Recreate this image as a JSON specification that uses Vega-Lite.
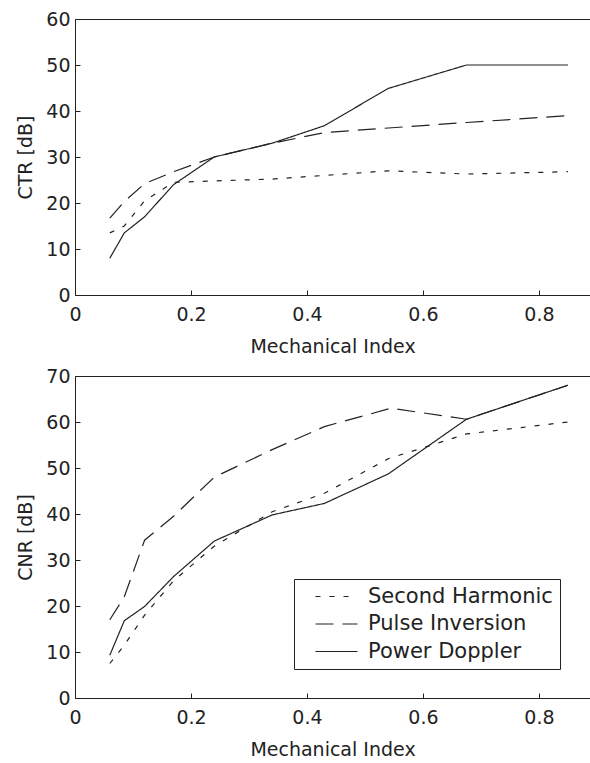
{
  "$schema": "https://vega.github.io/schema/vega-lite/v6.json",
  "padding": {"left": 16, "top": 9, "right": 0, "bottom": 0},
  "background": "white",
  "datasets": {
    "ctr": [
      {"series": "Second Harmonic", "mi": 0.06, "db": 13.5},
      {"series": "Second Harmonic", "mi": 0.085, "db": 15},
      {"series": "Second Harmonic", "mi": 0.12, "db": 20.5},
      {"series": "Second Harmonic", "mi": 0.17, "db": 24.5},
      {"series": "Second Harmonic", "mi": 0.24, "db": 24.8},
      {"series": "Second Harmonic", "mi": 0.34, "db": 25.2},
      {"series": "Second Harmonic", "mi": 0.43, "db": 26},
      {"series": "Second Harmonic", "mi": 0.54, "db": 27},
      {"series": "Second Harmonic", "mi": 0.675, "db": 26.3},
      {"series": "Second Harmonic", "mi": 0.85, "db": 26.8},
      {"series": "Pulse Inversion", "mi": 0.06, "db": 16.7},
      {"series": "Pulse Inversion", "mi": 0.085, "db": 20.3},
      {"series": "Pulse Inversion", "mi": 0.12, "db": 24.2},
      {"series": "Pulse Inversion", "mi": 0.17, "db": 26.8},
      {"series": "Pulse Inversion", "mi": 0.24, "db": 30},
      {"series": "Pulse Inversion", "mi": 0.34, "db": 33},
      {"series": "Pulse Inversion", "mi": 0.43, "db": 35.3},
      {"series": "Pulse Inversion", "mi": 0.54, "db": 36.3},
      {"series": "Pulse Inversion", "mi": 0.675, "db": 37.5},
      {"series": "Pulse Inversion", "mi": 0.85, "db": 39},
      {"series": "Power Doppler", "mi": 0.06, "db": 8},
      {"series": "Power Doppler", "mi": 0.085, "db": 13.5},
      {"series": "Power Doppler", "mi": 0.12, "db": 17},
      {"series": "Power Doppler", "mi": 0.17, "db": 24},
      {"series": "Power Doppler", "mi": 0.24, "db": 30},
      {"series": "Power Doppler", "mi": 0.34, "db": 33},
      {"series": "Power Doppler", "mi": 0.43, "db": 36.8},
      {"series": "Power Doppler", "mi": 0.54, "db": 44.9},
      {"series": "Power Doppler", "mi": 0.675, "db": 50},
      {"series": "Power Doppler", "mi": 0.85, "db": 50}
    ],
    "cnr": [
      {"series": "Second Harmonic", "mi": 0.06, "db": 7.5},
      {"series": "Second Harmonic", "mi": 0.085, "db": 11.5},
      {"series": "Second Harmonic", "mi": 0.12, "db": 18},
      {"series": "Second Harmonic", "mi": 0.17, "db": 25.5},
      {"series": "Second Harmonic", "mi": 0.24, "db": 33},
      {"series": "Second Harmonic", "mi": 0.34, "db": 40.5},
      {"series": "Second Harmonic", "mi": 0.43, "db": 44.5},
      {"series": "Second Harmonic", "mi": 0.54, "db": 52},
      {"series": "Second Harmonic", "mi": 0.675, "db": 57.4},
      {"series": "Second Harmonic", "mi": 0.85, "db": 60},
      {"series": "Pulse Inversion", "mi": 0.06, "db": 17},
      {"series": "Pulse Inversion", "mi": 0.085, "db": 22},
      {"series": "Pulse Inversion", "mi": 0.12, "db": 34.3},
      {"series": "Pulse Inversion", "mi": 0.17, "db": 39.5},
      {"series": "Pulse Inversion", "mi": 0.24, "db": 48},
      {"series": "Pulse Inversion", "mi": 0.34, "db": 54},
      {"series": "Pulse Inversion", "mi": 0.43, "db": 59},
      {"series": "Pulse Inversion", "mi": 0.545, "db": 63},
      {"series": "Pulse Inversion", "mi": 0.675, "db": 60.6},
      {"series": "Pulse Inversion", "mi": 0.85, "db": 68},
      {"series": "Power Doppler", "mi": 0.06, "db": 9.3},
      {"series": "Power Doppler", "mi": 0.085, "db": 16.8},
      {"series": "Power Doppler", "mi": 0.12, "db": 19.9},
      {"series": "Power Doppler", "mi": 0.17, "db": 26.4},
      {"series": "Power Doppler", "mi": 0.24, "db": 34.1},
      {"series": "Power Doppler", "mi": 0.34, "db": 39.8},
      {"series": "Power Doppler", "mi": 0.43, "db": 42.3},
      {"series": "Power Doppler", "mi": 0.54, "db": 48.7},
      {"series": "Power Doppler", "mi": 0.675, "db": 60.6},
      {"series": "Power Doppler", "mi": 0.85, "db": 68}
    ]
  },
  "config": {
    "font": "DejaVu Sans",
    "view": {"stroke": "#222", "strokeWidth": 1},
    "axis": {
      "grid": false,
      "domainColor": "#222",
      "tickColor": "#222",
      "labelColor": "#222",
      "titleColor": "#222",
      "labelFontSize": 19,
      "titleFontSize": 19,
      "titleFontWeight": "normal",
      "labelFont": "DejaVu Sans",
      "titleFont": "DejaVu Sans"
    },
    "legend": {
      "labelFont": "DejaVu Sans",
      "labelFontSize": 21,
      "labelColor": "#222"
    }
  },
  "spacing": 9,
  "resolve": {"legend": {"strokeDash": "independent"}},
  "vconcat": [
    {
      "width": 515,
      "height": 276,
      "data": {"name": "ctr"},
      "mark": {"type": "line", "color": "#222", "strokeWidth": 1.2},
      "encoding": {
        "x": {
          "field": "mi", "type": "quantitative",
          "scale": {"domain": [0, 0.888], "nice": false},
          "axis": {"values": [0, 0.2, 0.4, 0.6, 0.8], "format": ".1~f", "title": "Mechanical Index", "labelPadding": 15, "titlePadding": 13, "tickSize": -5, "labelFlush": false}
        },
        "y": {
          "field": "db", "type": "quantitative",
          "scale": {"domain": [0, 60], "nice": false},
          "axis": {"values": [0, 10, 20, 30, 40, 50, 60], "title": "CTR [dB]", "labelPadding": 10, "titlePadding": 10, "tickSize": -5, "labelFlush": false}
        },
        "strokeDash": {
          "field": "series", "type": "nominal",
          "scale": {"domain": ["Second Harmonic", "Pulse Inversion", "Power Doppler"], "range": [[5, 9], [18, 9], [1, 0]]},
          "legend": null
        },
        "detail": {"field": "series"}
      }
    },
    {
      "width": 515,
      "height": 322,
      "data": {"name": "cnr"},
      "mark": {"type": "line", "color": "#222", "strokeWidth": 1.2},
      "encoding": {
        "x": {
          "field": "mi", "type": "quantitative",
          "scale": {"domain": [0, 0.888], "nice": false},
          "axis": {"values": [0, 0.2, 0.4, 0.6, 0.8], "format": ".1~f", "title": "Mechanical Index", "labelPadding": 15, "titlePadding": 13, "tickSize": -5, "labelFlush": false}
        },
        "y": {
          "field": "db", "type": "quantitative",
          "scale": {"domain": [0, 70], "nice": false},
          "axis": {"values": [0, 10, 20, 30, 40, 50, 60, 70], "title": "CNR [dB]", "labelPadding": 10, "titlePadding": 10, "tickSize": -5, "labelFlush": false}
        },
        "strokeDash": {
          "field": "series", "type": "nominal",
          "scale": {"domain": ["Second Harmonic", "Pulse Inversion", "Power Doppler"], "range": [[5, 9], [18, 9], [1, 0]]},
          "legend": {
            "title": null,
            "orient": "none",
            "legendX": 219,
            "legendY": 203,
            "fillColor": "white",
            "strokeColor": "#222",
            "padding": 7,
            "symbolType": "M-4,0H4",
            "symbolSize": 110.25,
            "symbolStrokeWidth": 1.2,
            "symbolStrokeColor": "#222",
            "symbolOffset": 25,
            "labelOffset": 21,
            "labelLimit": 400,
            "rowPadding": 5.5
          }
        },
        "detail": {"field": "series"}
      }
    }
  ]
}
